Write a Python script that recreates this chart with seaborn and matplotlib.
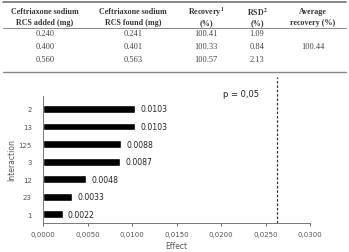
import matplotlib
matplotlib.use("Agg")
import matplotlib.pyplot as plt
import seaborn as sns
import pandas as pd

# Table data
added = ["0.240", "0.400", "0.560"]
found = ["0.241", "0.401", "0.563"]
recovery = ["100.41", "100.33", "100.57"]
rsd = ["1.09", "0.84", "2.13"]
avg_recovery = "100.44"

# Chart data
interactions = ["2", "13", "125", "3", "12", "23", "1"]
effects = [0.0103, 0.0103, 0.0088, 0.0087, 0.0048, 0.0033, 0.0022]
labels = ["0.0103", "0.0103", "0.0088", "0.0087", "0.0048", "0.0033", "0.0022"]
p_limit = 0.0263
xticks = [0.0, 0.005, 0.010, 0.015, 0.020, 0.025, 0.030]
xticklabels = ["0,0000", "0,0050", "0,0100", "0,0150", "0,0200", "0,0250", "0,0300"]

sns.set_style("white")
plt.rcParams["mathtext.fontset"] = "stix"

W, H = 349, 253
fig = plt.figure(figsize=(W / 100, H / 100), dpi=100)

def fx(x):
    return x / W

def fy(y):
    return 1 - y / H

# ---- table ----
serif = "Liberation Serif"
hs = 5.8
ds = 6.0
for y, lw in [(3, 1.4), (29, 0.7), (72.5, 1.0)]:
    fig.add_artist(plt.Line2D([fx(3), fx(346)], [fy(y), fy(y)], color="#888888", lw=lw))

cols = [45, 133, 206, 257, 313]
head1 = ["Ceftriaxone sodium", "Ceftriaxone sodium", r"Recovery$^{\mathbf{1}}$", r"RSD$^{\mathbf{2}}$", "Average"]
head2 = ["RCS added (mg)", "RCS found (mg)", "(%)", "(%)", "recovery (%)"]
for x, t1, t2 in zip(cols, head1, head2):
    fig.text(fx(x), fy(12), t1, ha="center", va="center", family=serif, fontweight="bold", fontsize=hs, color="#333333")
    fig.text(fx(x), fy(23), t2, ha="center", va="center", family=serif, fontweight="bold", fontsize=hs, color="#333333")

row_y = [34.5, 47, 59.5]
for i, y in enumerate(row_y):
    for x, v in zip(cols[:4], [added[i], found[i], recovery[i], rsd[i]]):
        fig.text(fx(x), fy(y), v, ha="center", va="center", family=serif, fontsize=ds, color="#444444")
fig.text(fx(cols[4]), fy(47), avg_recovery, ha="center", va="center", family=serif, fontsize=ds, color="#444444")

# ---- chart ----
left, right, top, bottom = 43, 310, 97, 224
ax = fig.add_axes([fx(left), fy(bottom), fx(right - left), (bottom - top) / H])
df = pd.DataFrame({"Interaction": interactions, "Effect": effects})
sns.barplot(data=df, x="Effect", y="Interaction", order=interactions, color="black",
            width=0.45, orient="h", ax=ax, saturation=1)
ax.set_xlim(0, 0.030)
ax.set_ylim(6.5, -0.74)
ax.set_xticks(xticks)
ax.set_xticklabels(xticklabels)
ax.tick_params(axis="x", labelsize=5, colors="#555555", length=2.5, width=0.6, pad=3, direction="out")
ax.tick_params(axis="y", labelsize=5, colors="#555555", length=0, pad=8)
for s in ["top", "right"]:
    ax.spines[s].set_visible(False)
for s in ["left", "bottom"]:
    ax.spines[s].set_color("#777777")
    ax.spines[s].set_linewidth(0.7)
ax.xaxis.tick_bottom()
for i, (v, l) in enumerate(zip(effects, labels)):
    ax.text(v + 0.0006, i, l, va="center", ha="left", fontsize=5.6, color="#222222")
ax.axvline(p_limit, ymin=0, ymax=1.15, color="#333333", lw=0.9, ls=(0, (2, 1.5)), clip_on=False)
ax.text(0.0223, -0.64, "p = 0,05", fontsize=6, color="#222222", va="bottom", ha="center")
ax.set_xlabel("Effect", fontsize=5.5, color="#555555", labelpad=3)
ax.set_ylabel("Interaction", fontsize=5.5, color="#555555", labelpad=2)

fig.savefig("out.png", dpi=100)
